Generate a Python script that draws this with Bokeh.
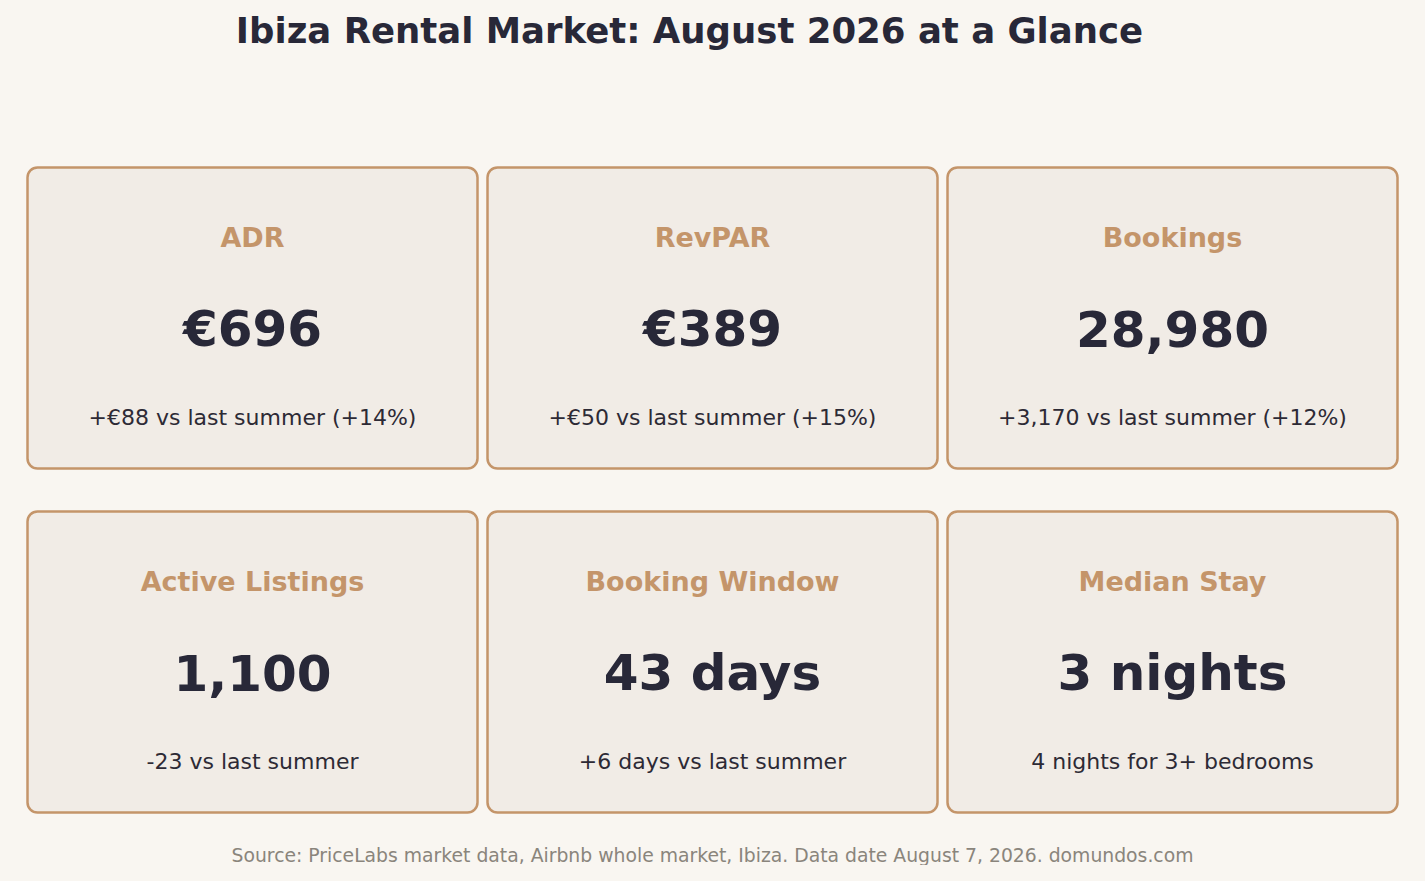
from bokeh.plotting import figure
from bokeh.models import Range1d, ColumnDataSource
from bokeh.core.properties import value
from bokeh.embed import file_html
from bokeh.resources import INLINE

# ---- data ----
metric_names = ["ADR", "RevPAR", "Bookings", "Active Listings", "Booking Window", "Median Stay"]
metric_values = ["€696", "€389", "28,980", "1,100", "43 days", "3 nights"]
metric_notes = [
    "+€88 vs last summer (+14%)",
    "+€50 vs last summer (+15%)",
    "+3,170 vs last summer (+12%)",
    "-23 vs last summer",
    "+6 days vs last summer",
    "4 nights for 3+ bedrooms",
]
title_text = "Ibiza Rental Market: August 2026 at a Glance"
source_text = "Source: PriceLabs market data, Airbnb whole market, Ibiza. Data date August 7, 2026. domundos.com"

# ---- style ----
BG = "#f9f6f1"
CARD = "#f1ece6"
ACCENT = "#c4956a"
DARK = "#282838"
SUB = "#2d2a35"
GREY = "#8a857c"
FONT = value("DejaVu Sans")

W, H = 1409, 865
p = figure(width=W, height=H, x_range=Range1d(0, W), y_range=Range1d(H, 0),
           output_backend="svg", toolbar_location=None, min_border=0,
           background_fill_color=BG, border_fill_color=BG)
p.axis.visible = False
p.grid.visible = False
p.outline_line_color = None

# grid layout of cards (pixel coordinates)
col_left = [27, 487, 947]
card_w = 450
row_top = [167, 511]
card_h = 301

lefts, rights, tops, bottoms, cx, row_y = [], [], [], [], [], []
for i in range(len(metric_names)):
    r, c = divmod(i, 3)
    lefts.append(col_left[c]); rights.append(col_left[c] + card_w)
    tops.append(row_top[r]); bottoms.append(row_top[r] + card_h)
    cx.append(col_left[c] + card_w / 2)
    row_y.append(row_top[r])

src = ColumnDataSource(dict(
    left=lefts, right=rights, top=tops, bottom=bottoms, x=cx,
    y_name=[t + 70 for t in row_y], y_val=[t + 161 for t in row_y], y_note=[t + 250 for t in row_y],
    name=metric_names, val=metric_values, note=metric_notes,
))

p.quad(left="left", right="right", top="top", bottom="bottom", source=src,
       fill_color=CARD, line_color=ACCENT, line_width=2.5, border_radius=10)

p.text(x="x", y="y_name", text="name", source=src, text_align="center", text_baseline="alphabetic",
       text_font=FONT, text_font_style="bold", text_font_size="27px", text_color=ACCENT)
p.text(x="x", y="y_val", text="val", source=src, text_align="center", text_baseline="alphabetic",
       text_font=FONT, text_font_style="bold", text_font_size="50px", text_color=DARK)
p.text(x="x", y="y_note", text="note", source=src, text_align="center", text_baseline="alphabetic",
       text_font=FONT, text_font_size="22px", text_color=SUB)

p.text(x=[689], y=[30], text=[title_text], text_align="center", text_baseline="alphabetic",
       text_font=FONT, text_font_style="bold", text_font_size="35.5px", text_color=DARK)
p.text(x=[712], y=[855], text=[source_text], text_align="center", text_baseline="alphabetic",
       text_font=FONT, text_font_size="18.8px", text_color=GREY)

html = file_html(p, INLINE)
html = html.replace("<head>", "<head><style>html,body{background:#f9f6f1;}</style>", 1)
open("out.html", "w").write(html)
